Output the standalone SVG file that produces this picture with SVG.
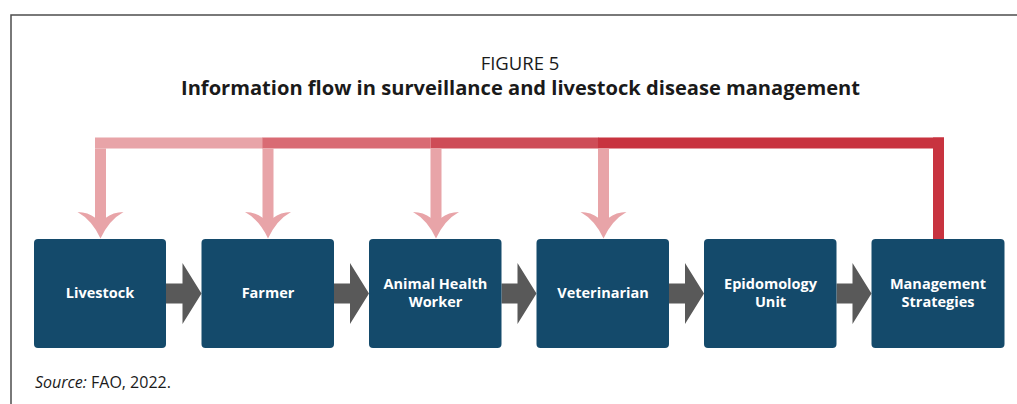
<svg xmlns="http://www.w3.org/2000/svg" width="1017" height="404" viewBox="0 0 1017 404">
<defs>
<style>
.box{fill:#144a6b;}
.lbl{font-family:"Open Sans","Liberation Sans",sans-serif;font-weight:bold;font-size:14.5px;fill:#ffffff;text-anchor:middle;}
.flow{fill:#595959;}
.head{fill:#e8a4a8;}
</style>
</defs>
<rect width="1017" height="404" fill="#ffffff"/>
<path d="M11,404 V15 H1017" fill="none" stroke="#4d4d4d" stroke-width="1.5"/>
<text x="520" y="70" font-family="Open Sans, Liberation Sans, sans-serif" font-size="18.5" text-anchor="middle" fill="#1a1a1a">FIGURE 5</text>
<text x="520.5" y="95" font-family="Open Sans, Liberation Sans, sans-serif" font-size="19.5" font-weight="bold" text-anchor="middle" textLength="679" lengthAdjust="spacingAndGlyphs" fill="#1a1a1a">Information flow in surveillance and livestock disease management</text>
<g id="connectors">
<rect x="95" y="137.5" width="168" height="11" fill="#e8a4a8"/>
<rect x="262.5" y="137.5" width="168" height="11" fill="#d96b74"/>
<rect x="430.5" y="137.5" width="168" height="11" fill="#ce4c57"/>
<rect x="598" y="137.5" width="346" height="11" fill="#c8333f"/>
<rect x="933" y="137.5" width="11" height="102" fill="#c8333f"/>
<g id="drop1"><rect x="95" y="148.5" width="11" height="70" fill="#e8a4a8"/><path class="head" d="M95.5,218 Q88,212 77.5,212 Q92,220 100.5,238.5 Q109,220 123.5,212 Q113,212 105.5,218 Z"/></g>
<g id="drop2"><rect x="262.5" y="148.5" width="11" height="70" fill="#e8a4a8"/><path class="head" d="M263,218 Q255.5,212 245,212 Q259.5,220 268,238.5 Q276.5,220 291,212 Q280.5,212 273,218 Z"/></g>
<g id="drop3"><rect x="430.5" y="148.5" width="11" height="70" fill="#e8a4a8"/><path class="head" d="M431,218 Q423.5,212 413,212 Q427.5,220 436,238.5 Q444.5,220 459,212 Q448.5,212 441,218 Z"/></g>
<g id="drop4"><rect x="598" y="148.5" width="11" height="70" fill="#e8a4a8"/><path class="head" d="M598.5,218 Q591,212 580.5,212 Q595,220 603.5,238.5 Q612,220 626.5,212 Q616,212 608.5,218 Z"/></g>
<path class="flow" d="M166,283.5 H182.5 V263 L201.5,293.5 L182.5,324 V303.5 H166 Z"/>
<path class="flow" d="M334,283.5 H350 V263 L369,293.5 L350,324 V303.5 H334 Z"/>
<path class="flow" d="M501.5,283.5 H517.5 V263 L536.5,293.5 L517.5,324 V303.5 H501.5 Z"/>
<path class="flow" d="M669,283.5 H685 V263 L704,293.5 L685,324 V303.5 H669 Z"/>
<path class="flow" d="M836.5,283.5 H852.5 V263 L871.5,293.5 L852.5,324 V303.5 H836.5 Z"/>
</g>
<g id="livestock"><rect class="box" x="34" y="239" width="132" height="109" rx="4"/><text class="lbl" x="100" y="298">Livestock</text></g>
<g id="farmer"><rect class="box" x="201.5" y="239" width="132.5" height="109" rx="4"/><text class="lbl" x="268" y="298">Farmer</text></g>
<g id="ahw"><rect class="box" x="369" y="239" width="132.5" height="109" rx="4"/><text class="lbl" x="435.5" y="289">Animal Health</text><text class="lbl" x="435.5" y="307">Worker</text></g>
<g id="vet"><rect class="box" x="536.5" y="239" width="132.5" height="109" rx="4"/><text class="lbl" x="603" y="298">Veterinarian</text></g>
<g id="epi"><rect class="box" x="704" y="239" width="132.5" height="109" rx="4"/><text class="lbl" x="770.5" y="289">Epidomology</text><text class="lbl" x="770.5" y="307">Unit</text></g>
<g id="mgmt"><rect class="box" x="871.5" y="239" width="133" height="109" rx="4"/><text class="lbl" x="938" y="289">Management</text><text class="lbl" x="938" y="307">Strategies</text></g>
<text x="35" y="388" font-family="Open Sans, Liberation Sans, sans-serif" font-size="16" fill="#1a1a1a"><tspan font-style="italic">Source:</tspan> FAO, 2022.</text>
</svg>
